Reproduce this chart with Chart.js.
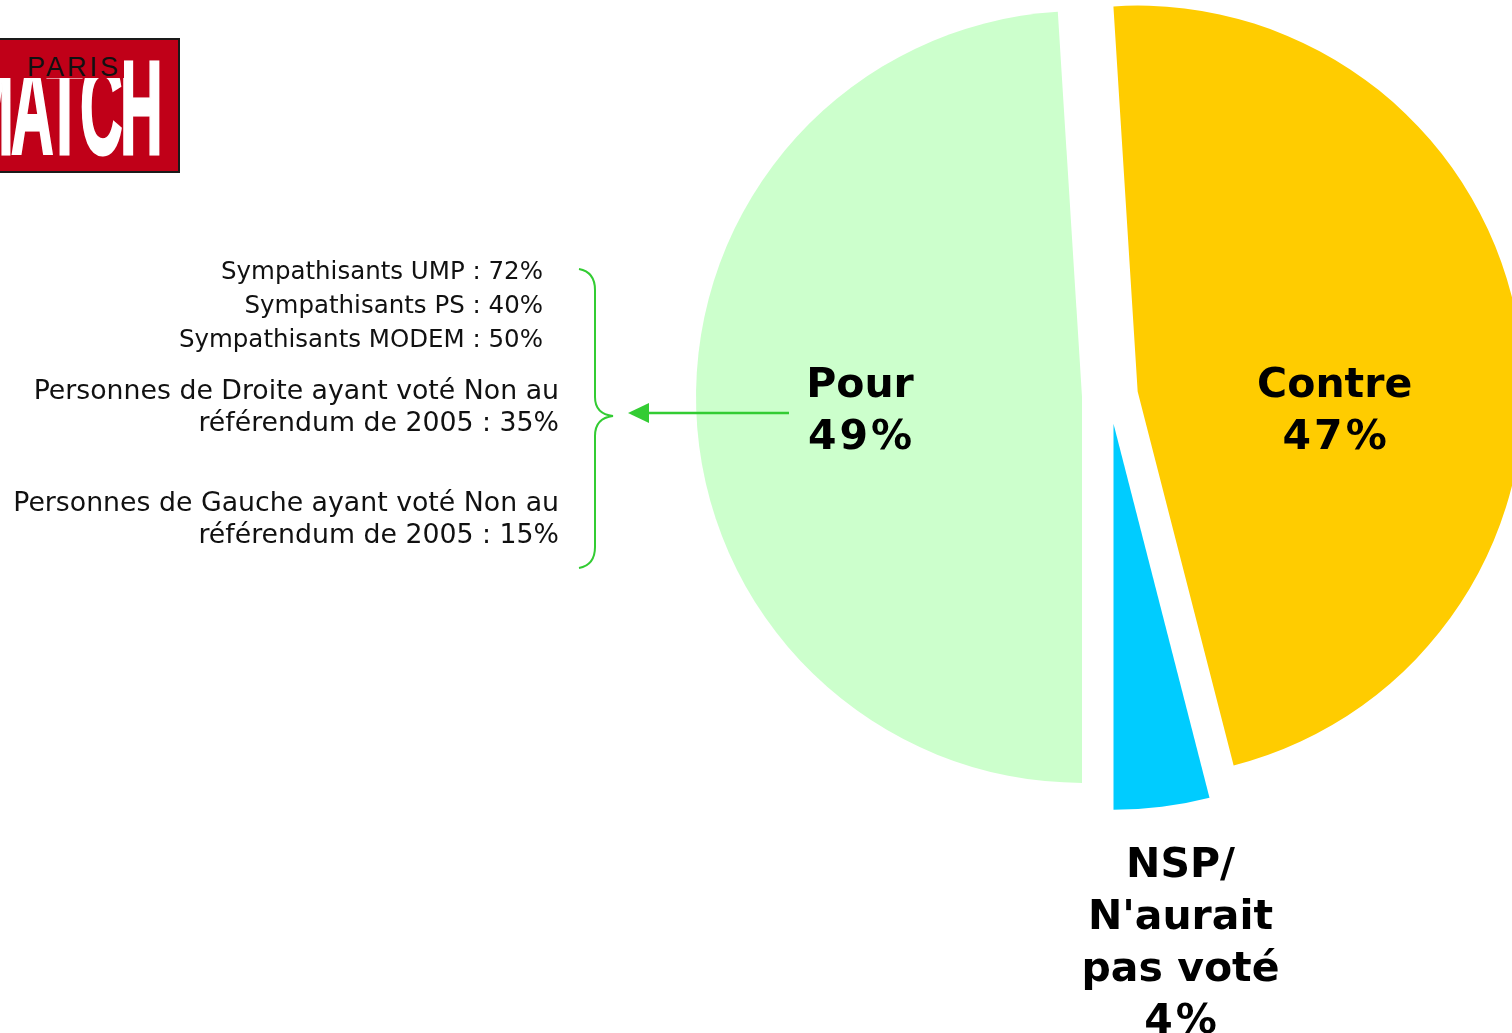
<!DOCTYPE html>
<html lang="fr">
<head>
<meta charset="utf-8">
<title>Pour / Contre</title>
<script src="https://cdn.jsdelivr.net/npm/chart.js@4/dist/chart.umd.min.js"></script>
<style>
  body { margin: 0; background: #fff; overflow: hidden; }
  #wrap { position: relative; width: 1512px; height: 1033px; }
  #pie { position: absolute; left: 0; top: 0; }
  .logo { position: absolute; left: 0; top: 38px; width: 178px; height: 131px; background: #c00018;
          border: 2px solid #1a1a1a; border-left: none; overflow: hidden; }
  .logo .match { position: absolute; right: 18px; top: 1px; font: bold 134px/1 "Liberation Sans", Arial, sans-serif;
                 color: #fff; -webkit-text-stroke: 3px #fff; letter-spacing: -6px;
                 transform: scaleX(0.44); transform-origin: right top; white-space: nowrap; }
  .logo .band { position: absolute; left: 0; top: 0; width: 124px; height: 38px; background: #c00018; }
  .logo .paris { position: absolute; left: 27px; top: 14px; font: 27px/1 "Liberation Sans", Arial, sans-serif;
                 color: #111; letter-spacing: 3px; }
  .notes { position: absolute; font-family: "DejaVu Sans", Verdana, sans-serif; color: #111; text-align: right; white-space: nowrap; }
  .notes div { position: absolute; right: 0; }
  svg { position: absolute; left: 0; top: 0; }
</style>
</head>
<body>
<div id="wrap">
  <canvas id="pie" width="1512" height="1033"></canvas>
  <div class="logo"><span class="match">MATCH</span><div class="band"></div><span class="paris">PARIS</span></div>
  <div class="notes" id="notesTop" style="left:0; width:543px; top:0; font-size:24.5px;"></div>
  <div class="notes" id="notesBottom" style="left:0; width:559px; top:0; font-size:26.75px;"></div>
  <svg width="1512" height="1033">
    <path d="M579,269 Q595,272 595,290 L595,397 Q595,414 613,416 Q595,418 595,436 L595,547 Q595,565 579,568"
          fill="none" stroke="#33cc33" stroke-width="2"/>
    <line x1="789" y1="413" x2="645" y2="413" stroke="#33cc33" stroke-width="2.5"/>
    <polygon points="628,413 649,403 649,423" fill="#33cc33"/>
  </svg>
</div>
<script>
const categories = [['Pour'], ['Contre'], ['NSP/', "N'aurait", 'pas voté']];
const values = [49, 47, 4];
const colors = ['#ccffcc', '#ffcc00', '#00ccff'];

const breakdownTop = ['Sympathisants UMP : 72%', 'Sympathisants PS : 40%', 'Sympathisants MODEM : 50%'];
const breakdownBottom = [
  ['Personnes de Droite ayant voté Non au', 'référendum de 2005 : 35%'],
  ['Personnes de Gauche ayant voté Non au', 'référendum de 2005 : 15%']
];

// text blocks on the left (baselines)
const topBase = [279, 313, 347];
breakdownTop.forEach((t, i) => {
  const d = document.createElement('div');
  d.textContent = t;
  d.style.top = (topBase[i] - 23) + 'px';
  document.getElementById('notesTop').appendChild(d);
});
const bottomBase = [[399, 431], [511, 543]];
breakdownBottom.forEach((pair, i) => {
  pair.forEach((t, j) => {
    const d = document.createElement('div');
    d.textContent = t;
    d.style.top = (bottomBase[i][j] - 25) + 'px';
    document.getElementById('notesBottom').appendChild(d);
  });
});

const explode = 28;
// label anchor relative to the (exploded) slice centre: [dx, first baseline dy]
const labelAnchor = [[-222, 0], [197, 5], [67, 453]];
const labelLine = 52;

const explodePlugin = {
  id: 'explode',
  afterDatasetsUpdate(chart) {
    chart.getDatasetMeta(0).data.forEach(arc => {
      const mid = (arc.startAngle + arc.endAngle) / 2;
      arc.x += Math.cos(mid) * explode;
      arc.y += Math.sin(mid) * explode;
    });
  }
};

const labelPlugin = {
  id: 'sliceLabels',
  afterDatasetsDraw(chart) {
    const ctx = chart.ctx;
    ctx.save();
    ctx.fillStyle = '#000';
    ctx.font = 'bold 41px "DejaVu Sans", Verdana, sans-serif';
    ctx.textAlign = 'center';
    ctx.textBaseline = 'alphabetic';
    chart.getDatasetMeta(0).data.forEach((arc, i) => {
      const x = arc.x + labelAnchor[i][0];
      const y = arc.y + labelAnchor[i][1];
      const lines = categories[i];
      ctx.letterSpacing = '0px';
      lines.forEach((l, j) => ctx.fillText(l, x, y + j * labelLine));
      // the percentage line is set a little wider in the original
      ctx.letterSpacing = '3px';
      ctx.fillText(values[i] + '%', x + 1.5, y + lines.length * labelLine);
    });
    ctx.restore();
  }
};

new Chart(document.getElementById('pie'), {
  type: 'pie',
  data: {
    labels: categories.map(c => c.join(' ')),
    datasets: [{
      data: values,
      backgroundColor: colors,
      borderWidth: 0
    }]
  },
  options: {
    responsive: false,
    animation: false,
    events: [],
    rotation: 180,
    layout: { padding: { left: 724, right: 16, top: 10, bottom: 251 } },
    plugins: {
      legend: { display: false },
      tooltip: { enabled: false }
    }
  },
  plugins: [explodePlugin, labelPlugin]
});
</script>
</body>
</html>
